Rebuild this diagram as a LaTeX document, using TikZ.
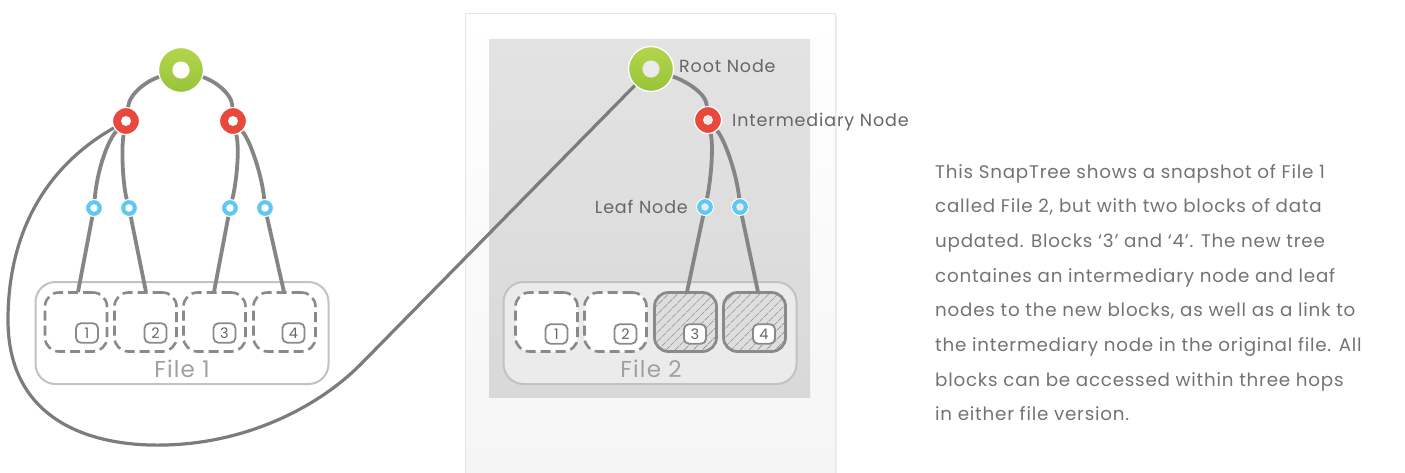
\documentclass[tikz,border=0pt]{standalone}
\usepackage{fontspec}
\setmainfont{Poppins}
\newfontfamily\widefont{Poppins}[LetterSpace=5]
\newfontfamily\parafont{Poppins}[LetterSpace=4.2]
\usetikzlibrary{patterns.meta,calc}

\definecolor{linegray}{HTML}{858585}
\definecolor{loopgray}{HTML}{7C7C7C}
\definecolor{blockgray}{HTML}{8A8A8A}
\definecolor{boxgray}{HTML}{C2C2C2}
\definecolor{rootgreenA}{HTML}{B4D54B}
\definecolor{rootgreenB}{HTML}{97C43A}
\definecolor{midred}{HTML}{E9483C}
\definecolor{leafblue}{HTML}{5DC9F2}
\definecolor{labeltext}{HTML}{666666}
\definecolor{bodytext}{HTML}{737373}
\definecolor{filetext}{HTML}{A0A0A0}
\definecolor{panelhole}{HTML}{EAEAEA}

\tikzset{
  rootnode/.style={circle, inner sep=0pt, minimum size=45pt, draw=white, line width=1.3pt,
    top color=rootgreenA, bottom color=rootgreenB,
    path picture={\fill[#1] (path picture bounding box.center) circle (8.6pt);}},
  midnode/.style={circle, inner sep=0pt, minimum size=27pt, draw=white, line width=1.2pt,
    fill=midred,
    path picture={\fill[#1] (path picture bounding box.center) circle (5pt);}},
  leafnode/.style={circle, inner sep=0pt, minimum size=17pt, draw=white, line width=1pt,
    fill=leafblue,
    path picture={\fill[#1] (path picture bounding box.center) circle (3.8pt);}},
  link/.style={draw=linegray, line width=3.8pt},
  looplink/.style={draw=loopgray, line width=3.2pt},
  filebox/.style={rectangle, rounded corners=20pt, draw=boxgray, line width=2pt,
    minimum width=293pt, minimum height=102pt, inner sep=0pt},
  dashblock/.style={rectangle, rounded corners=14pt, draw=blockgray, line width=2.6pt,
    dash pattern=on 10pt off 5pt, minimum width=62pt, minimum height=59pt, inner sep=0pt},
  newblock/.style={rectangle, rounded corners=14pt, draw=blockgray, line width=2.8pt,
    minimum width=62pt, minimum height=59pt, inner sep=0pt,
    preaction={fill=black!13},
    pattern={Lines[angle=45, distance=6.5pt, line width=0.9pt]}, pattern color=blockgray},
  badge/.style={rectangle, rounded corners=5pt, draw=blockgray, line width=1.8pt,
    minimum width=22pt, minimum height=19.5pt, inner sep=0pt,
    font=\fontsize{14.5}{14.5}\selectfont, text=black!60},
  tag/.style={font=\widefont\fontsize{17.5}{20}\selectfont, text=labeltext, inner sep=0pt},
  filename/.style={font=\widefont\fontsize{23}{26}\selectfont, text=filetext, inner sep=0pt},
  bodyline/.style={font=\parafont\fontsize{18.3}{22}\selectfont, text=bodytext, inner sep=0pt, anchor=base west}
}

\begin{document}
\begin{tikzpicture}[x=1pt, y=-1pt]
\useasboundingbox (0,0) rectangle (1405,472);

% ---------- snapshot card and its grey panel ----------
\fill[black!6] (467,15) rectangle (837,474);
\draw[draw=black!10, line width=1pt, top color=white, bottom color=black!4]
  (465,13) rectangle (835,480);
\shade[top color=black!11, bottom color=black!15] (489,39) rectangle (810,397);

% ---------- File 1 ----------
\node[filebox, fill=white] (f1) at (182,333) {};
\node[filename, anchor=base] (f1name) at (182,377) {File 1};
\node[dashblock] (b1) at (76,322) {};
\node[dashblock] (b2) at (145.5,322) {};
\node[dashblock] (b3) at (214.5,322) {};
\node[dashblock] (b4) at (284.5,322) {};
\node[badge] (n1) at ($(b1.center)+(11,11)$) {1};
\node[badge] (n2) at ($(b2.center)+(10,11)$) {2};
\node[badge] (n3) at ($(b3.center)+(10,11)$) {3};
\node[badge] (n4) at ($(b4.center)+(9,11)$) {4};

% ---------- File 2 ----------
\node[filebox, fill=black!8] (f2) at (650,333) {};
\node[filename, anchor=base] (f2name) at (651,377) {File 2};
\node[dashblock, fill=white] (b5) at (546.5,322) {};
\node[dashblock, fill=white] (b6) at (615.5,322) {};
\node[newblock] (b7) at (685.5,322) {};
\node[newblock] (b8) at (754.5,322) {};
\node[badge] (n5) at ($(b5.center)+(10,12)$) {1};
\node[badge] (n6) at ($(b6.center)+(10,12)$) {2};
\node[badge, fill=white] (n7) at ($(b7.center)+(9.5,12)$) {3};
\node[badge, fill=white] (n8) at ($(b8.center)+(9.5,12)$) {4};

% ---------- tree of File 1 ----------
\node[rootnode=white] (r1) at (181,70) {};
\node[midnode=white] (i1) at (126,121) {};
\node[midnode=white] (i2) at (233,121) {};
\node[leafnode=white] (l1) at (94,208) {};
\node[leafnode=white] (l2) at (129,208) {};
\node[leafnode=white] (l3) at (230,208) {};
\node[leafnode=white] (l4) at (265,208) {};
\coordinate (t1) at (78,292);
\coordinate (t2) at (146,292);
\coordinate (t3) at (214,292);
\coordinate (t4) at (284,292);

\draw[link] (r1) .. controls (149,80) and (130,92) .. (i1);
\draw[link] (r1) .. controls (212,80) and (232,92) .. (i2);
\draw[link] (i1) .. controls (108,140) and (97,170) .. (l1);
\draw[link] (i1) .. controls (121,150) and (123,185) .. (l2);
\draw[link] (i2) .. controls (240,150) and (236,185) .. (l3);
\draw[link] (i2) .. controls (250,140) and (262,175) .. (l4);
\draw[link] (l1) -- (t1);
\draw[link] (l2) -- (t2);
\draw[link] (l3) -- (t3);
\draw[link] (l4) -- (t4);

% ---------- tree of File 2 ----------
\node[rootnode=panelhole] (r2) at (651,69) {};
\node[midnode=panelhole] (i3) at (708,120) {};
\node[leafnode=panelhole] (l5) at (705,207) {};
\node[leafnode=panelhole] (l6) at (740,207) {};
\coordinate (t5) at (687,292);
\coordinate (t6) at (758,292);

\draw[link] (r2) .. controls (683,80) and (706,92) .. (i3);
\draw[link] (i3) .. controls (714,150) and (710,185) .. (l5);
\draw[link] (i3) .. controls (725,140) and (737,175) .. (l6);
\draw[link] (l5) -- (t5);
\draw[link] (l6) -- (t6);

% shared link from the old intermediary node to the new root
\draw[looplink] (i1) .. controls (40,170) and (8,240) .. (8,320)
  .. controls (8,420) and (90,447) .. (165,445)
  .. controls (250,443) and (320,405) .. (360,365) -- (r2);

% ---------- labels ----------
\node[tag, anchor=base west] (rootlbl) at (679,72) {Root Node};
\node[tag, anchor=base west] (midlbl) at (732,126) {Intermediary Node};
\node[tag, anchor=base east] (leaflbl) at (688,213) {Leaf Node};

% ---------- description ----------
\foreach \ln [count=\i] in {
  {This SnapTree shows a snapshot of File 1},
  {called File 2, but with two blocks of data},
  {updated. Blocks ‘3’ and ‘4’. The new tree},
  {containes an intermediary node and leaf},
  {nodes to the new blocks, as well as a link to},
  {the intermediary node in the original file. All},
  {blocks can be accessed within three hops},
  {in either file version.}}
  \node[bodyline] (desc\i) at (935,{178+34.7*(\i-1)}) {\ln};
\end{tikzpicture}
\end{document}
